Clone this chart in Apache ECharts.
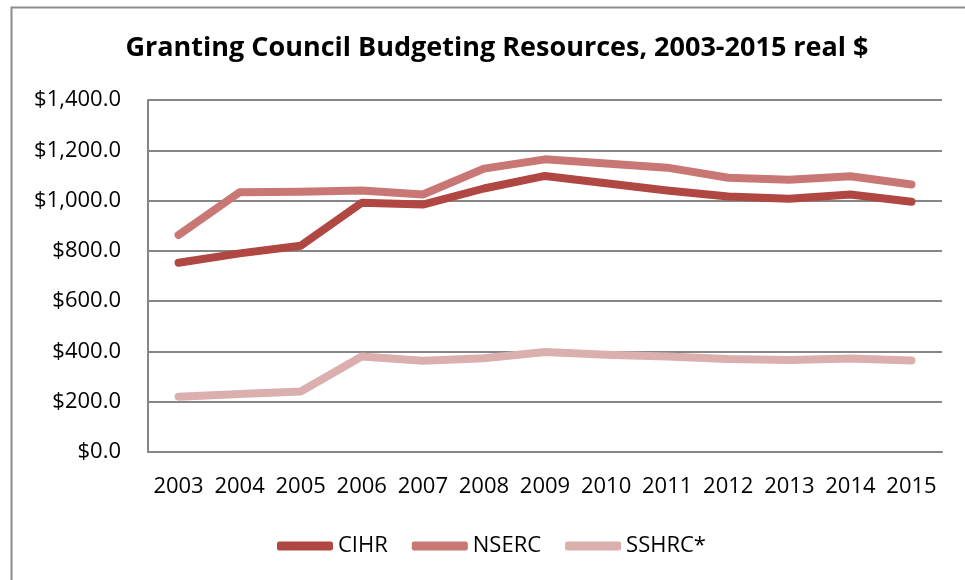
<!DOCTYPE html>
<html>
<head>
<meta charset="utf-8">
<script src="https://cdn.jsdelivr.net/npm/echarts@6/dist/echarts.min.js"></script>
<style>
html,body{margin:0;padding:0;background:#fff;}
#chart{width:965px;height:580px;}
</style>
</head>
<body>
<div id="chart"></div>
<script>
const years = ['2003','2004','2005','2006','2007','2008','2009','2010','2011','2012','2013','2014','2015'];
const cihr  = [753, 790, 820, 991, 984, 1048, 1098, 1069, 1040, 1016, 1007, 1024, 995];
const nserc = [863, 1033, 1035, 1040, 1024, 1127, 1164, 1147, 1131, 1091, 1083, 1097, 1064];
const sshrc = [220, 231, 241, 380, 363, 373, 398, 387, 380, 370, 366, 372, 364];
const titleText = 'Granting Council Budgeting Resources, 2003-2015 real $';
const FONT = 'Open Sans';

function fmt(v){
  return '$' + Number(v).toLocaleString('en-US') + '.0';
}
function mk(name, data, color){
  return {
    name: name, type: 'line', data: data, showSymbol: false, symbol: 'none',
    lineStyle: {color: color, width: 8, cap: 'round', join: 'round'},
    itemStyle: {color: color},
    animation: false
  };
}
const chart = echarts.init(document.getElementById('chart'), null, {renderer: 'canvas'});
chart.setOption({
  backgroundColor: '#fff',
  animation: false,
  graphic: [{
    type: 'rect', z: -1,
    shape: {x: 11.5, y: 7.5, width: 1000, height: 1000},
    style: {fill: '#fff', stroke: '#8c8c8c', lineWidth: 2}
  }],
  title: {
    text: titleText, left: 492, top: 30, textAlign: 'center',
    textStyle: {fontFamily: FONT, fontWeight: 'bold', fontSize: 27, color: '#000'}
  },
  legend: {
    left: 272, top: 530, itemWidth: 56, itemHeight: 9, itemGap: 24,
    icon: 'roundRect',
    textStyle: {fontFamily: FONT, fontSize: 22, color: '#000', padding: [0,0,0,0]},
    data: ['CIHR', 'NSERC', 'SSHRC*']
  },
  grid: {left: 148, right: 23, top: 100, bottom: 128, containLabel: false},
  xAxis: {
    type: 'category', data: years, boundaryGap: true,
    axisLine: {lineStyle: {color: '#868686', width: 2}},
    axisTick: {show: false},
    axisLabel: {fontFamily: FONT, fontSize: 22, color: '#000', margin: 24, interval: 0}
  },
  yAxis: {
    type: 'value', min: 0, max: 1400, interval: 200,
    axisLine: {show: true, lineStyle: {color: '#868686', width: 2}},
    axisTick: {show: false},
    splitLine: {lineStyle: {color: '#868686', width: 2}},
    axisLabel: {fontFamily: FONT, fontSize: 22, color: '#000', margin: 27, formatter: fmt}
  },
  series: [
    mk('CIHR', cihr, '#b04743'),
    mk('NSERC', nserc, '#c87775'),
    mk('SSHRC*', sshrc, '#dbafae')
  ]
});
</script>
</body>
</html>
